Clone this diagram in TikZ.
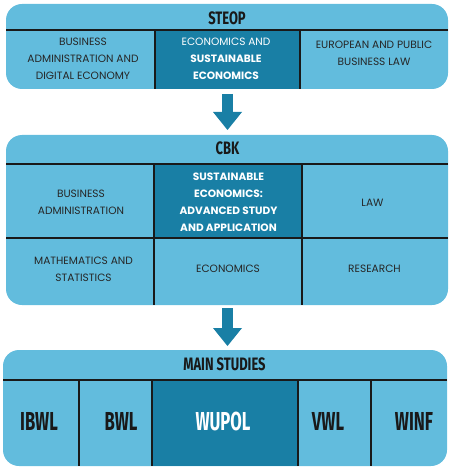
\documentclass[tikz,border=0pt]{standalone}
\usepackage{fontspec}
\setmainfont{Poppins}
\newfontfamily\headfont[FakeStretch=0.72]{Fira Sans}
\newfontfamily\bigfont[FakeStretch=0.64]{Fira Sans}
\usepackage{xcolor}
\usetikzlibrary{arrows.meta,positioning,calc}
\definecolor{lightblue}{RGB}{98,188,221}
\definecolor{darkblue}{RGB}{25,127,165}

\begin{document}
\begin{tikzpicture}[
	%	style def
    x=1pt, y=-1pt,
    panel/.style={fill=lightblue, rounded corners=16pt},
    dark cell/.style={fill=darkblue},
    divider/.style={line width=2pt, black!90},
    cell text/.style={align=center, inner sep=0pt, text=black!85,
        font=\fontsize{10.6}{17}\selectfont},
    white text/.style={cell text, text=white},
    head text/.style={inner sep=0pt, text=black!90,
        font=\headfont\bfseries\fontsize{18}{18}\selectfont},
    big text/.style={inner sep=0pt, text=black!90,
        font=\bigfont\bfseries\fontsize{26}{26}\selectfont},
    flow arrow/.style={darkblue, line width=11.5pt,
        -{Triangle[length=18pt, width=29pt, line width=0pt]}}
    ]
    \useasboundingbox (0,0) rectangle (454,473);

	% STEOP panel
    \fill[panel] (6,4) rectangle (448,89);
    \fill[dark cell] (155,30) rectangle (300,89);
    \draw[divider] (6,30) -- (448,30);
    \draw[divider] (155,30) -- (155,89);
    \draw[divider] (300,30) -- (300,89);
    \node[head text] (steop) at (227,18) {STEOP};
    \node[cell text] (bada) at (83,58.5) {BUSINESS\\ADMINISTRATION AND\\DIGITAL ECONOMY};
    \node[white text] (ecsu) at (226,58.5) {ECONOMICS AND\\\textbf{SUSTAINABLE}\\\textbf{ECONOMICS}};
    \node[cell text] (eplaw) at (374,53.5) {EUROPEAN AND PUBLIC\\BUSINESS LAW};

	% CBK panel
    \fill[panel] (6,135) rectangle (448,305);
    \fill[dark cell] (154,164) rectangle (302,238);
    \draw[divider] (6,164) -- (448,164);
    \draw[divider] (6,238) -- (448,238);
    \draw[divider] (154,164) -- (154,305);
    \draw[divider] (302,164) -- (302,305);
    \node[head text] (cbk) at (227.5,148.5) {CBK};
    \node[cell text] (busadm) at (81,202.5) {BUSINESS\\ADMINISTRATION};
    \node[white text, font=\fontsize{10.6}{17}\selectfont\bfseries] (suec) at (228.5,202.5) {SUSTAINABLE\\ECONOMICS:\\ADVANCED STUDY\\AND APPLICATION};
    \node[cell text] (law) at (372.5,202.5) {LAW};
    \node[cell text] (mathstat) at (83.5,269) {MATHEMATICS AND\\STATISTICS};
    \node[cell text] (econ) at (228,269) {ECONOMICS};
    \node[cell text] (research) at (374.5,269) {RESEARCH};

	% main studies panel
    \fill[panel] (3,350) rectangle (447,466);
    \fill[dark cell] (152,380) rectangle (298,466);
    \draw[divider] (3,380) -- (447,380);
    \foreach \xs in {79,152,298,371}
        \draw[divider] (\xs,380) -- (\xs,466);
    \node[head text] (mainst) at (224.5,364) {MAIN STUDIES};
    \node[big text] (ibwl) at (39,421) {IBWL};
    \node[big text] (bwl) at (121,421) {BWL};
    \node[big text, text=white] (wupol) at (223,421) {WUPOL};
    \node[big text] (vwl) at (328,421) {VWL};
    \node[big text] (winf) at (414,421) {WINF};

	% arrows between panels
    \coordinate (steop out) at (227.5,94);
    \coordinate (cbk in) at (227.5,130);
    \coordinate (cbk out) at (227.5,308);
    \coordinate (main in) at (227.5,346);
    \draw[flow arrow] (steop out) -- (cbk in);
    \draw[flow arrow] (cbk out) -- (main in);

\end{tikzpicture}
\end{document}
